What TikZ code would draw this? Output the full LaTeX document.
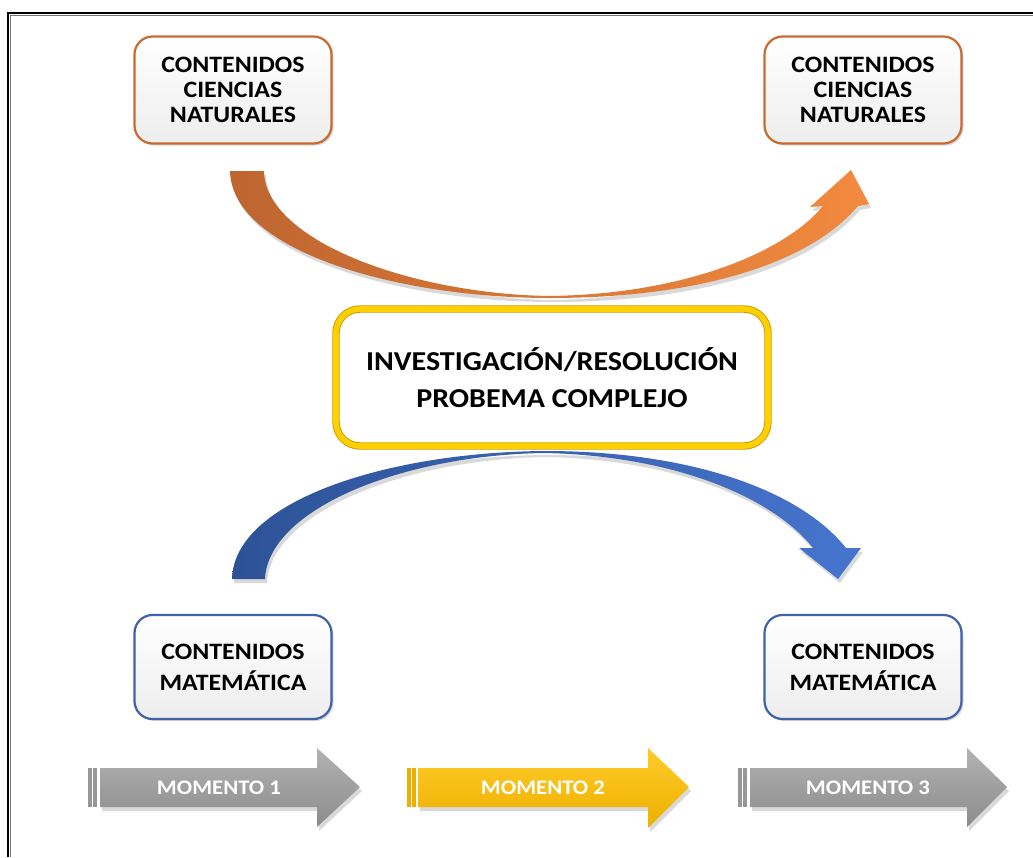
\documentclass[tikz,border=0pt]{standalone}
\usepackage{fontspec}
\setmainfont{Carlito}[FakeStretch=1.1]
\usetikzlibrary{shadows,fadings}
\definecolor{orgA}{HTML}{BE6530}
\definecolor{orgB}{HTML}{F28A3E}
\definecolor{bluA}{HTML}{2D5296}
\definecolor{bluB}{HTML}{4675CE}
\definecolor{orgBorder}{HTML}{C96A30}
\definecolor{bluBorder}{HTML}{3F62A8}
\definecolor{goldD}{HTML}{C89A00}
\definecolor{goldL}{HTML}{FFD000}
\definecolor{grayA}{HTML}{B2B2B2}
\definecolor{grayB}{HTML}{8C8C8C}
\definecolor{yelA}{HTML}{FFCB2A}
\definecolor{yelB}{HTML}{EEB000}
\begin{document}
\begin{tikzpicture}[x=1pt,y=-1pt,
  cbox/.style={rounded corners=18pt, line width=2.2pt, top color=white, bottom color=black!7,
    minimum width=197pt, align=center, text=black,
    font=\bfseries\fontsize{23.5}{25}\selectfont,
    drop shadow={shadow xshift=2pt,shadow yshift=-2pt,opacity=0.3}},
  orgbox/.style={cbox, draw=orgBorder, minimum height=107pt},
  blubox/.style={cbox, draw=bluBorder, minimum height=104pt, font=\bfseries\fontsize{23.5}{31}\selectfont},
  centerbox/.style={rounded corners=24pt, draw=goldD, double=goldL, double distance=5.6pt, line width=0.9pt,
    fill=white, minimum width=432pt, minimum height=137pt, align=center,
    font=\bfseries\fontsize{27.3}{37}\selectfont,
    drop shadow={shadow xshift=2pt,shadow yshift=-2pt,opacity=0.3}},
  arrowshadow/.style={drop shadow={shadow xshift=2pt,shadow yshift=-4pt,opacity=0.3}},
  momtext/.style={text=white, font=\bfseries\fontsize{20.7}{24}\selectfont},
  grayarrow/.style={top color=grayA, bottom color=grayB, arrowshadow},
  yelarrow/.style={top color=yelA, bottom color=yelB, arrowshadow},
  stripegray/.style={fill=grayB!90},
  stripeyel/.style={fill=yelB},
]
\useasboundingbox (0,0) rectangle (1033,857);

% frame
\draw[black!55, line width=1pt] (10,857) -- (10,15) -- (1033,15);
\draw[black, line width=1.3pt] (8,857) -- (8,13) -- (1033,13);

% boxes
\node[orgbox] (cn1) at (233,90) {CONTENIDOS\\CIENCIAS\\NATURALES};
\node[orgbox] (cn2) at (863,90) {CONTENIDOS\\CIENCIAS\\NATURALES};
\node[centerbox] (inv) at (552,377.5) {INVESTIGACIÓN/RESOLUCIÓN\\PROBEMA COMPLEJO};
\node[blubox] (m1) at (233,667) {CONTENIDOS\\MATEMÁTICA};
\node[blubox] (m2) at (863,667) {CONTENIDOS\\MATEMÁTICA};

% orange curved arrow
\coordinate (oS) at (230,171);
\coordinate (oM) at (550,298);
\coordinate (oT) at (851,170);
\path[left color=orgA, right color=orgB, arrowshadow]
  (oS) .. controls (232,252) and (400,298) .. (oM)
  .. controls (695,298) and (808,265) .. (858,206)
  -- (869,204) -- (oT) -- (810,207) -- (823,206)
  .. controls (785,252) and (685,294) .. (550,296)
  .. controls (410,294) and (265,240) .. (264,171) -- cycle;

% blue curved arrow
\coordinate (bS) at (232,579);
\coordinate (bM) at (545,451);
\coordinate (bT) at (838,579);
\path[left color=bluA, right color=bluB, arrowshadow]
  (bS) .. controls (234,500) and (390,452) .. (bM)
  .. controls (690,451) and (800,490) .. (846,548)
  -- (861,548) -- (bT) -- (799,548) -- (813,548)
  .. controls (775,500) and (680,456) .. (545,453)
  .. controls (400,455) and (268,510) .. (265,579) -- cycle;

% moment arrows
\path[grayarrow] (100,768) -- (317,768) -- (317,748) -- (360,787) -- (317,827) -- (317,807) -- (100,807) -- cycle;
\path[stripegray] (88,768) rectangle (91.5,807);
\path[stripegray] (93,768) rectangle (96.5,807);
\node[momtext] (mo1) at (219,788) {MOMENTO 1};

\path[yelarrow] (418,768) -- (648,768) -- (648,748) -- (689,787) -- (648,828) -- (648,807) -- (418,807) -- cycle;
\path[stripeyel] (407,768) rectangle (410.5,807);
\path[stripeyel] (412,768) rectangle (415.5,807);
\node[momtext] (mo2) at (543,788) {MOMENTO 2};

\path[grayarrow] (750,768) -- (967,768) -- (967,748) -- (1007,787) -- (967,827) -- (967,807) -- (750,807) -- cycle;
\path[stripegray] (738,768) rectangle (741.5,807);
\path[stripegray] (743,768) rectangle (746.5,807);
\node[momtext] (mo3) at (868,788) {MOMENTO 3};
\end{tikzpicture}
\end{document}
